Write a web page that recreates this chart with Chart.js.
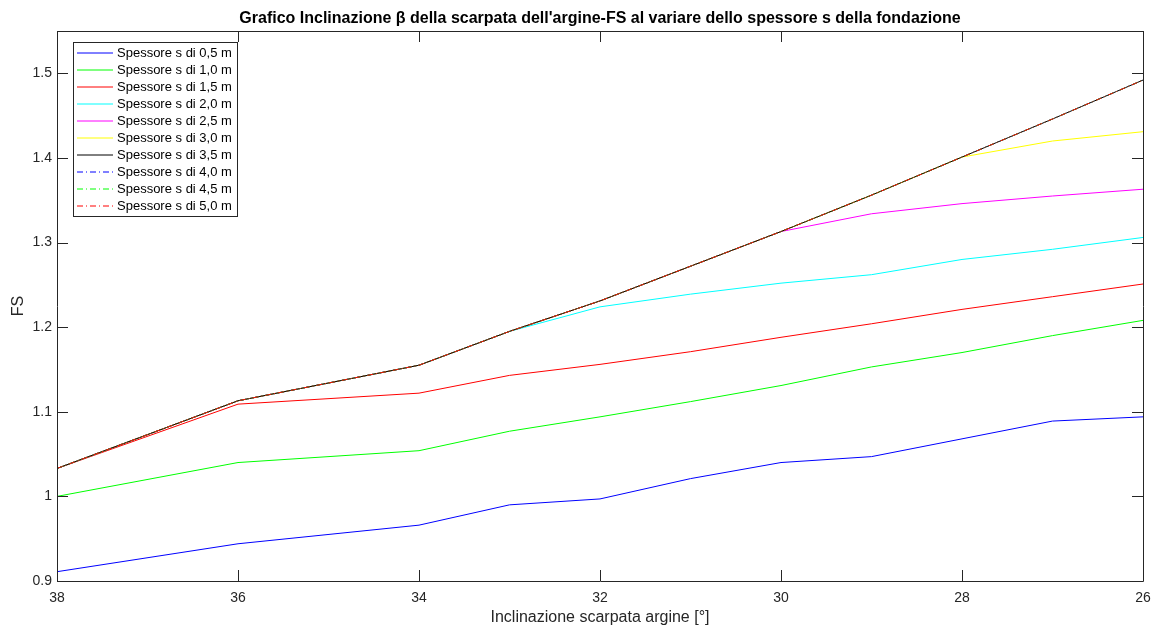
<!DOCTYPE html>
<html>
<head>
<meta charset="utf-8">
<script src="https://cdn.jsdelivr.net/npm/chart.js@4"></script>
<style>
  html, body { margin: 0; padding: 0; background: #fff; }
  #wrap { width: 1153px; height: 628px; }
</style>
</head>
<body>
<div id="wrap"><canvas id="fsChart" width="1153" height="628"></canvas></div>
<script>
// inclinazione scarpata [deg]
const angles = [38, 36, 34, 33, 32, 31, 30, 29, 28, 27, 26];

// FS per spessore della fondazione
const fs05 = [0.911, 0.944, 0.966, 0.990, 0.997, 1.021, 1.040, 1.047, 1.068, 1.089, 1.094];
const fs10 = [1.000, 1.040, 1.054, 1.077, 1.094, 1.112, 1.131, 1.153, 1.170, 1.190, 1.208];
const fs15 = [1.033, 1.109, 1.122, 1.143, 1.156, 1.171, 1.188, 1.204, 1.221, 1.236, 1.251];
const fs20 = [1.033, 1.113, 1.155, 1.195, 1.224, 1.239, 1.252, 1.262, 1.280, 1.292, 1.306];
const fs25 = [1.033, 1.113, 1.155, 1.195, 1.231, 1.272, 1.313, 1.334, 1.346, 1.355, 1.363];
const fs30 = [1.033, 1.113, 1.155, 1.195, 1.231, 1.272, 1.313, 1.356, 1.401, 1.420, 1.431];
const fs35 = [1.033, 1.113, 1.155, 1.195, 1.231, 1.272, 1.313, 1.356, 1.401, 1.446, 1.492];
const fs40 = [1.033, 1.113, 1.155, 1.195, 1.231, 1.272, 1.313, 1.356, 1.401, 1.446, 1.492];
const fs45 = [1.033, 1.113, 1.155, 1.195, 1.231, 1.272, 1.313, 1.356, 1.401, 1.446, 1.492];
const fs50 = [1.033, 1.113, 1.155, 1.195, 1.231, 1.272, 1.313, 1.356, 1.401, 1.446, 1.492];

const seriesLabels = [
  "Spessore s di 0,5 m", "Spessore s di 1,0 m", "Spessore s di 1,5 m",
  "Spessore s di 2,0 m", "Spessore s di 2,5 m", "Spessore s di 3,0 m",
  "Spessore s di 3,5 m", "Spessore s di 4,0 m", "Spessore s di 4,5 m",
  "Spessore s di 5,0 m",
];
const seriesValues = [fs05, fs10, fs15, fs20, fs25, fs30, fs35, fs40, fs45, fs50];
const seriesColors = ["#0000ff", "#00ff00", "#ff0000", "#00ffff", "#ff00ff",
  "#ffff00", "#000000", "#0000ff", "#00ff00", "#ff0000"];
const dashDot = [6, 3, 1, 3];

const axisColor = "#262626";
const fontFamily = "'Liberation Sans', Arial, Helvetica, sans-serif";

const datasets = seriesValues.map((vals, i) => ({
  label: seriesLabels[i],
  data: vals.map((v, k) => ({ x: angles[k], y: v })),
  borderColor: seriesColors[i],
  borderWidth: 1,
  borderDash: i >= 7 ? dashDot : [],
  pointRadius: 0,
  tension: 0,
  fill: false,
  order: seriesValues.length - i, // later series on top, like MATLAB
}));

// box around the plot with inward ticks, as in MATLAB
const boxTicks = {
  id: "boxTicks",
  afterDatasetsDraw(chart) {
    const { ctx, chartArea: a, scales } = chart;
    const len = 11;
    ctx.save();
    ctx.strokeStyle = axisColor;
    ctx.lineWidth = 1;
    ctx.beginPath();
    ctx.rect(Math.round(a.left) + 0.5, Math.round(a.top) + 0.5,
      Math.round(a.right - a.left), Math.round(a.bottom - a.top));
    scales.x.ticks.forEach((t) => {
      const px = Math.round(scales.x.getPixelForValue(t.value)) + 0.5;
      ctx.moveTo(px, a.bottom); ctx.lineTo(px, a.bottom - len);
      ctx.moveTo(px, a.top); ctx.lineTo(px, a.top + len);
    });
    scales.y.ticks.forEach((t) => {
      const py = Math.round(scales.y.getPixelForValue(t.value)) + 0.5;
      ctx.moveTo(a.left, py); ctx.lineTo(a.left + len, py);
      ctx.moveTo(a.right, py); ctx.lineTo(a.right - len, py);
    });
    ctx.stroke();
    ctx.restore();
  },
};

// legend box inside the plot, top-left
const innerLegend = {
  id: "innerLegend",
  afterDraw(chart) {
    const { ctx, chartArea: a } = chart;
    const x0 = Math.round(a.left) + 16, y0 = Math.round(a.top) + 11;
    const w = 164, rowH = 17;
    const h = rowH * datasets.length + 4;
    ctx.save();
    ctx.fillStyle = "#fff";
    ctx.fillRect(x0, y0, w, h);
    ctx.strokeStyle = axisColor;
    ctx.lineWidth = 1;
    ctx.strokeRect(x0 + 0.5, y0 + 0.5, w, h);
    ctx.font = "13px " + fontFamily;
    ctx.textBaseline = "middle";
    chart.data.datasets.forEach((ds, i) => {
      const cy = Math.round(y0 + 11 + i * rowH);
      ctx.strokeStyle = ds.borderColor;
      ctx.setLineDash(ds.borderDash);
      ctx.beginPath();
      ctx.moveTo(x0 + 4, cy);
      ctx.lineTo(x0 + 40, cy);
      ctx.stroke();
      ctx.setLineDash([]);
      ctx.fillStyle = "#000";
      ctx.fillText(ds.label, x0 + 44, cy + 0.5);
    });
    ctx.restore();
  },
};

const ctx = document.getElementById("fsChart").getContext("2d");

const fsChart = new Chart(ctx, {
  type: "line",
  data: { datasets: datasets },
  options: {
    responsive: false,
    animation: false,
    layout: { padding: { left: 0, right: 10, top: 0, bottom: 0 } },
    scales: {
      x: {
        type: "linear",
        reverse: true,
        min: 26,
        max: 38,
        border: { display: false },
        grid: { display: false, drawTicks: false },
        ticks: {
          stepSize: 2,
          padding: 9,
          color: axisColor,
          font: { family: fontFamily, size: 14 },
          maxRotation: 0,
        },
        title: {
          display: true,
          text: "Inclinazione scarpata argine [°]",
          color: axisColor,
          font: { family: fontFamily, size: 16 },
          padding: { top: 0, bottom: 0.4 },
        },
        afterFit: (scale) => {
          scale.height = 47;
          scale.paddingLeft = 0;
          scale.paddingRight = 0;
        },
      },
      y: {
        min: 0.9,
        max: 1.55,
        border: { display: false },
        grid: { display: false, drawTicks: false },
        ticks: {
          stepSize: 0.1,
          includeBounds: false,
          padding: 5,
          color: axisColor,
          font: { family: fontFamily, size: 14 },
          callback: (v) => String(+v.toFixed(2)),
        },
        title: {
          display: true,
          text: "FS",
          color: axisColor,
          font: { family: fontFamily, size: 16 },
          padding: { top: 9, bottom: 0 },
        },
        afterFit: (scale) => {
          scale.width = 57;
          scale.paddingTop = 0;
          scale.paddingBottom = 0;
        },
      },
    },
    plugins: {
      legend: { display: false },
      tooltip: { enabled: false },
      title: {
        display: true,
        fullSize: false,
        text: "Grafico Inclinazione β della scarpata dell'argine-FS al variare dello spessore s della fondazione",
        color: "#000",
        font: { family: fontFamily, size: 16, weight: "bold", lineHeight: 1.2 },
        padding: { top: 9.4, bottom: 2.4 },
      },
    },
  },
  plugins: [boxTicks, innerLegend],
});
</script>
</body>
</html>
